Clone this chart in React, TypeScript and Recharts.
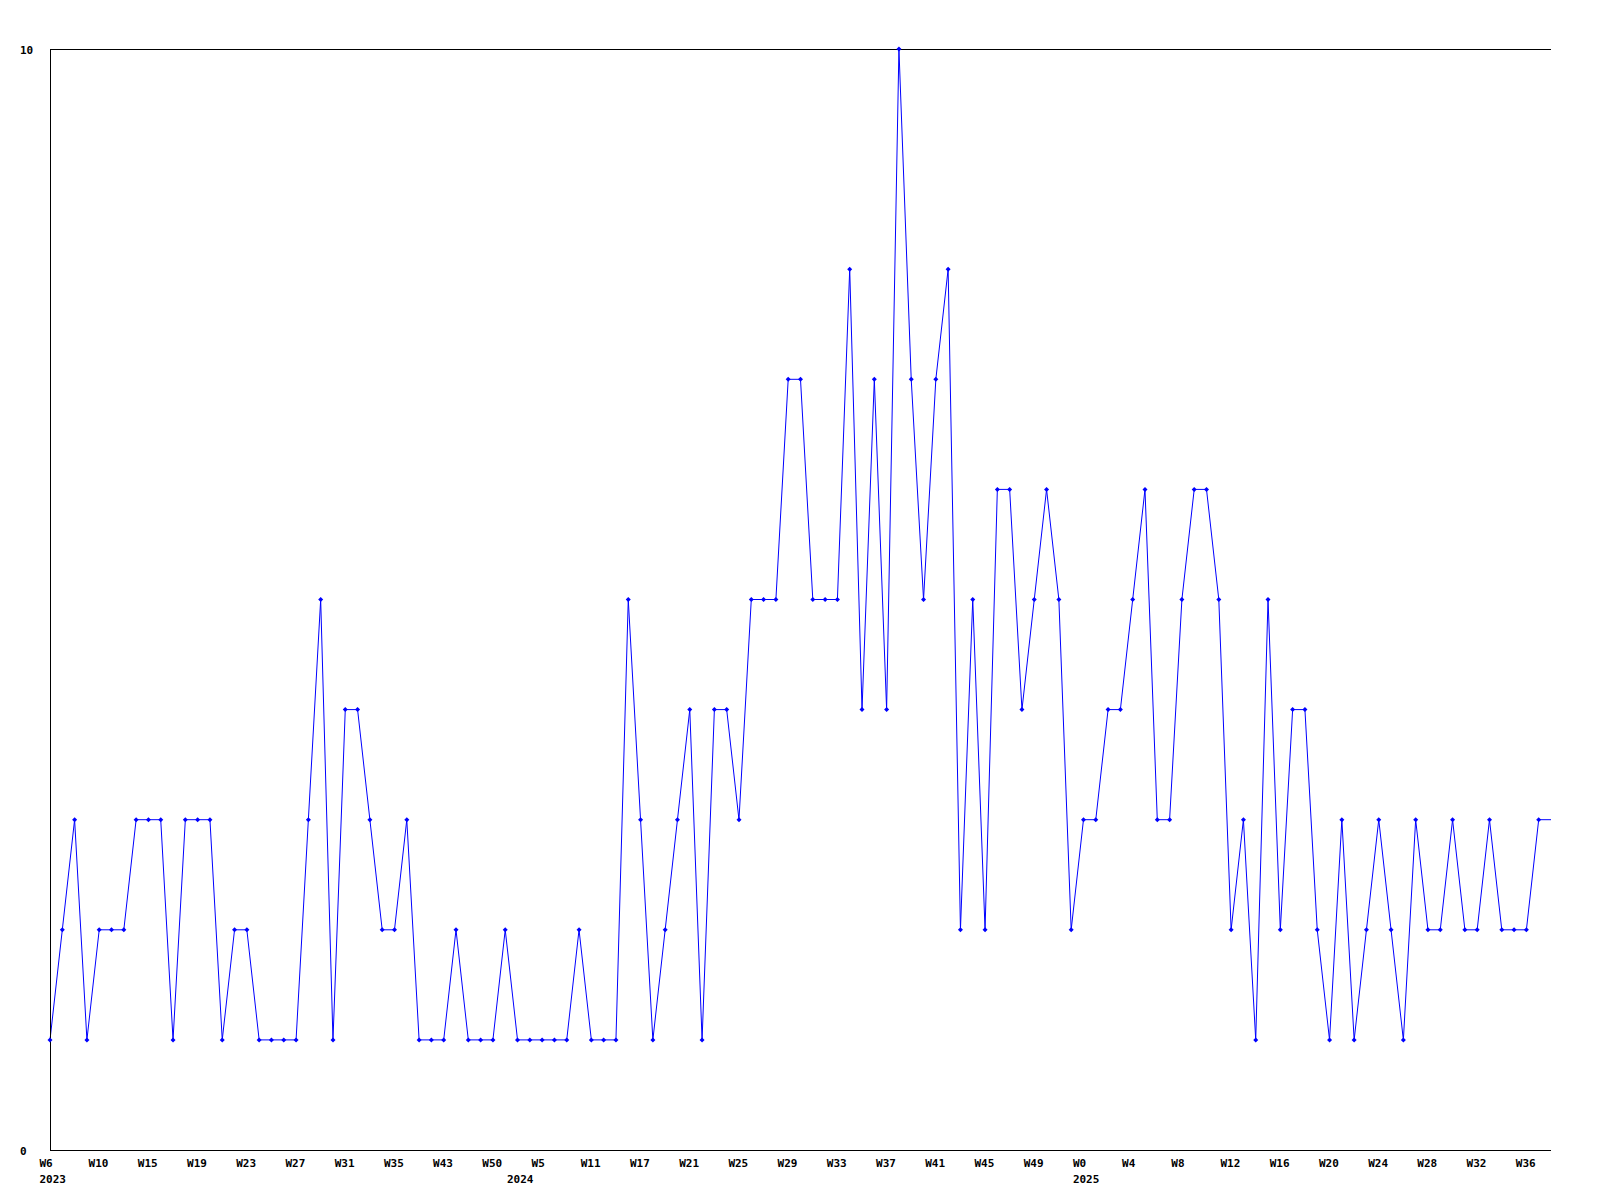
import React from "react";
import { LineChart, Line, XAxis, YAxis, ReferenceLine } from "recharts";

// weekly counts, one per point (last one is the partial week running off the edge)
const counts = [
  1, 2, 3, 1, 2, 2, 2, 3, 3, 3,
  1, 3, 3, 3, 1, 2, 2, 1, 1, 1,
  1, 3, 5, 1, 4, 4, 3, 2, 2, 3,
  1, 1, 1, 2, 1, 1, 1, 2, 1, 1,
  1, 1, 1, 2, 1, 1, 1, 5, 3, 1,
  2, 3, 4, 1, 4, 4, 3, 5, 5, 5,
  7, 7, 5, 5, 5, 8, 4, 7, 4, 10,
  7, 5, 7, 8, 2, 5, 2, 6, 6, 4,
  5, 6, 5, 2, 3, 3, 4, 4, 5, 6,
  3, 3, 5, 6, 6, 5, 2, 3, 1, 5,
  2, 4, 4, 2, 1, 3, 1, 2, 3, 2,
  1, 3, 2, 2, 3, 2, 2, 3, 2, 2,
  2, 3, 3,
];

// x labels every 4th point
const weekLabels = [
  "W6", "W10", "W15", "W19", "W23", "W27", "W31", "W35", "W43", "W50",
  "W5", "W11", "W17", "W21", "W25", "W29", "W33", "W37", "W41", "W45",
  "W49", "W0", "W4", "W8", "W12", "W16", "W20", "W24", "W28", "W32", "W36",
];
const weekStep = 4;

// year labels, by point index
const yearIndex = [0, 38, 84];
const yearLabels = ["2023", "2024", "2025"];

const yTicks = [0, 10];

const data = counts.map((v, i) => ({ i, v }));
const lastIdx = counts.length - 1;

const xTicks = [
  ...weekLabels.map((_, k) => k * weekStep),
  ...yearIndex.filter((n) => n % weekStep !== 0),
].sort((a, b) => a - b);

const FONT = '"DejaVu Sans Mono", monospace';

function XTick(props: any) {
  const { x, y, payload } = props;
  const idx = payload.value as number;
  const wk = idx % weekStep === 0 ? weekLabels[idx / weekStep] : null;
  const yr = yearIndex.indexOf(idx);
  return (
    <g>
      {wk && (
        <text x={x - 10.6} y={y + 17} fontFamily={FONT} fontSize={11} fontWeight="bold" fill="#000">
          {wk}
        </text>
      )}
      {yr >= 0 && (
        <text x={x - 10.6} y={y + 33} fontFamily={FONT} fontSize={11} fontWeight="bold" fill="#000">
          {yearLabels[yr]}
        </text>
      )}
    </g>
  );
}

function YTick(props: any) {
  const { y, payload } = props;
  return (
    <text x={20} y={y + 4.5} fontFamily={FONT} fontSize={11} fontWeight="bold" fill="#000">
      {payload.value}
    </text>
  );
}

function Marker(props: any) {
  const { cx, cy, index } = props;
  if (index === lastIdx || cx == null) return <g key={`m${index}`} />;
  return (
    <path
      key={`m${index}`}
      d={`M${cx - 2.5},${cy} L${cx},${cy - 2.5} L${cx + 2.5},${cy} L${cx},${cy + 2.5} Z`}
      fill="#0000ff"
    />
  );
}

const axisStyle = { stroke: "#000", strokeWidth: 1, shapeRendering: "crispEdges" } as any;

export default function App() {
  return (
    <div style={{ position: "absolute", left: 0, top: 0, width: 1600, height: 1200, background: "#fff" }}>
      <LineChart width={1600} height={1200} data={data} margin={{ top: 49, right: 49, bottom: 0, left: 0 }}>
        <XAxis
          dataKey="i"
          type="number"
          domain={[0, lastIdx]}
          ticks={xTicks}
          interval={0}
          height={50}
          tickSize={0}
          tickMargin={0}
          tickLine={false}
          axisLine={axisStyle}
          tick={<XTick />}
        />
        <YAxis
          type="number"
          domain={[0, 10]}
          ticks={yTicks}
          width={50}
          tickSize={0}
          tickMargin={0}
          tickLine={false}
          axisLine={axisStyle}
          tick={<YTick />}
        />
        <ReferenceLine y={10} stroke="#000" strokeWidth={1} shapeRendering="crispEdges" />
        <Line
          type="linear"
          dataKey="v"
          stroke="#0000ff"
          strokeWidth={1}
          dot={Marker}
          activeDot={false}
          isAnimationActive={false}
        />
      </LineChart>
    </div>
  );
}
